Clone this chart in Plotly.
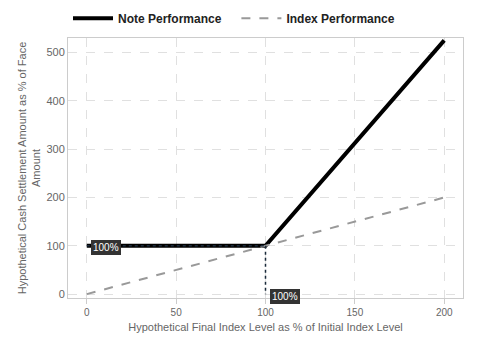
import plotly.graph_objects as go

index_level = [0, 100, 200]
note_perf = [100, 100, 525]
index_perf = [0, 100, 200]
x_ticks = [0, 50, 100, 150, 200]
y_ticks = [0, 100, 200, 300, 400, 500]
threshold = 100
threshold_label = "100%"

FONT = "Liberation Sans, Arial, sans-serif"
PAD = "&nbsp;" * 3

fig = go.Figure()
fig.add_trace(go.Scatter(x=index_level, y=note_perf, mode="lines",
                         name="<b>Note Performance</b>" + PAD,
                         line=dict(color="black", width=4)))
fig.add_trace(go.Scatter(x=index_level, y=index_perf, mode="lines",
                         name="<b>Index Performance</b>",
                         line=dict(color="#999999", width=2, dash="dash")))
# dotted guide lines
fig.add_trace(go.Scatter(x=[index_level[0], threshold], y=[threshold, threshold], mode="lines",
                         line=dict(color="#1a2a3a", width=1.5, dash="dot"), showlegend=False))
fig.add_trace(go.Scatter(x=[threshold, threshold], y=[threshold, 0], mode="lines",
                         line=dict(color="#1a2a3a", width=1.5, dash="dot"), showlegend=False))

for ax_, ay_ in [(index_level[0], threshold), (threshold, 0)]:
    fig.add_annotation(x=ax_, y=ay_, text=threshold_label, showarrow=False, xanchor="left",
                       xshift=4, yshift=-2,
                       font=dict(color="white", size=10, family=FONT),
                       bgcolor="#333333", bordercolor="#333333", borderpad=1)

fig.update_layout(
    width=480, height=360,
    margin=dict(l=68, r=17, t=38, b=62, autoexpand=False),
    paper_bgcolor="white", plot_bgcolor="white",
    font=dict(family=FONT, color="#666666", size=11),
    legend=dict(orientation="h", x=0.0, y=1.02, xanchor="left", yanchor="bottom",
                font=dict(size=12, color="#222222", family=FONT),
                itemwidth=40),
    showlegend=True,
)
fig.update_xaxes(range=[-10.5, 210.5], tickvals=x_ticks, showgrid=True, gridcolor="#e0e0e0",
                 griddash="dash", zeroline=False, showline=True, linecolor="#cccccc", mirror=True,
                 ticks="outside", tickcolor="#cccccc", ticklen=5, automargin=False,
                 title=dict(text="Hypothetical Final Index Level as % of Initial Index Level",
                            font=dict(size=11, color="#666666"), standoff=6),
                 tickfont=dict(size=10))
fig.update_yaxes(range=[-8, 530], tickvals=y_ticks, showgrid=True, gridcolor="#e0e0e0",
                 griddash="dash", zeroline=False, showline=True, linecolor="#cccccc", mirror=True,
                 ticks="", tickfont=dict(size=11), automargin=False,
                 title=dict(text="Hypothetical Cash Settlement Amount as % of Face<br>Amount",
                            font=dict(size=11, color="#666666"), standoff=3))
fig.write_html("out.html", config={"displayModeBar": False},
               post_script="document.body.style.margin='0';document.body.style.overflow='hidden';")
